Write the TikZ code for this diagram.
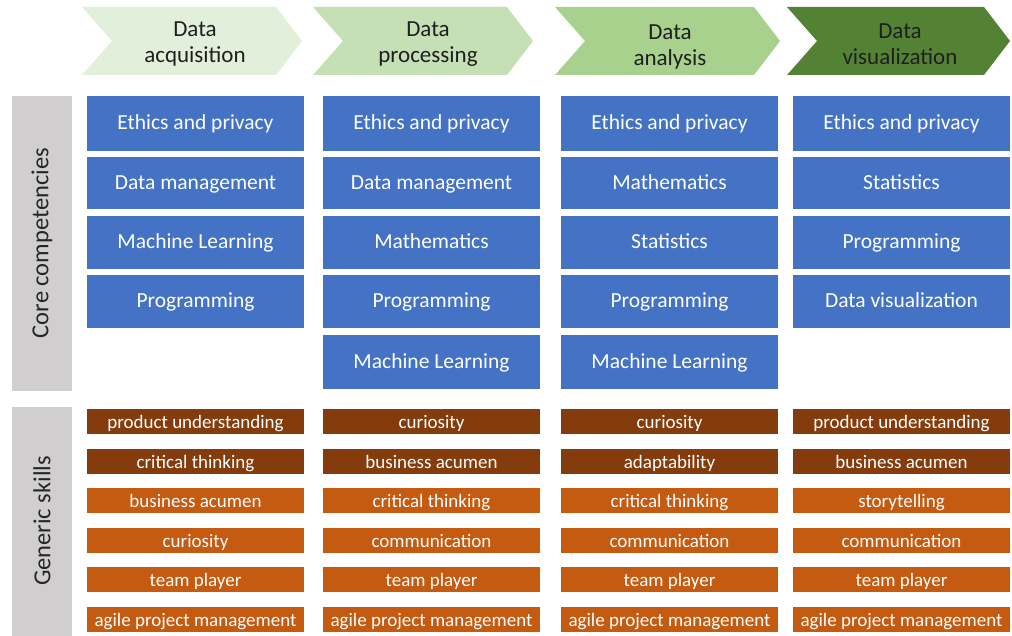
\documentclass[tikz,border=0pt]{standalone}
\usepackage{fontspec}
\setmainfont{Carlito}
\definecolor{corebl}{HTML}{4472C4}
\definecolor{skdark}{HTML}{843C0C}
\definecolor{sklight}{HTML}{C55A11}
\definecolor{sidegray}{HTML}{D0CECE}
\definecolor{chA}{HTML}{E2EFDA}
\definecolor{chB}{HTML}{C5E0B4}
\definecolor{chC}{HTML}{A9D18E}
\definecolor{chD}{HTML}{548235}
\tikzset{
  box/.style={anchor=north west, inner sep=0pt, outer sep=0pt, minimum width=217pt, text=white, align=center},
  corebox/.style={box, fill=corebl, font=\fontsize{21.5}{24}\selectfont, text height=15pt, text depth=2pt},
  skbox/.style={box, minimum height=25pt, font=\fontsize{19}{21}\selectfont, text height=14.5pt, text depth=0pt},
  skdk/.style={skbox, fill=skdark},
  sklt/.style={skbox, fill=sklight},
  side/.style={fill=sidegray, anchor=north west, inner sep=0pt, minimum width=60pt},
  sidetext/.style={rotate=90, font=\fontsize{24.5}{28}\selectfont, text=black!85},
  chtext/.style={align=center, font=\fontsize{23}{26}\selectfont, text=black!88}
}
\begin{document}
\begin{tikzpicture}[x=1pt,y=-1pt]
\useasboundingbox (0,0) rectangle (1012,636);
\fill[white] (0,0) rectangle (1012,636);
% chevrons
\fill[chA] (82,7) -- (276,7) -- (302,41) -- (276,75) -- (82,75) -- (112,41) -- cycle;
\fill[chB] (313,7) -- (507,7) -- (533,41) -- (507,75) -- (313,75) -- (343,41) -- cycle;
\fill[chC] (555,7) -- (754,7) -- (780,41) -- (754,75) -- (555,75) -- (585,41) -- cycle;
\fill[chD] (787,7) -- (984,7) -- (1010,41) -- (984,75) -- (787,75) -- (817,41) -- cycle;
\node[chtext] (h1) at (195,44) {Data\\acquisition};
\node[chtext] (h2) at (428,44) {Data\\processing};
\node[chtext] (h3) at (670,47) {Data\\analysis};
\node[chtext] (h4) at (900,44) {Data\\visualization};
% side bars
\node[side, minimum height=295pt] (sc) at (12,96) {};
\node[sidetext] (sct) at (42,243) {Core competencies};
\node[side, minimum height=229pt] (sg) at (12,407) {};
\node[sidetext] (sgt) at (42,521) {Generic skills};
% core column 1
\node[corebox, minimum height=55pt] (a1) at (87,96) {Ethics and privacy};
\node[corebox, minimum height=52pt] (a2) at (87,157) {Data management};
\node[corebox, minimum height=53pt] (a3) at (87,216) {Machine Learning};
\node[corebox, minimum height=53pt] (a4) at (87,275) {Programming};
% core column 2
\node[corebox, minimum height=55pt] (b1) at (323,96) {Ethics and privacy};
\node[corebox, minimum height=52pt] (b2) at (323,157) {Data management};
\node[corebox, minimum height=53pt] (b3) at (323,216) {Mathematics};
\node[corebox, minimum height=53pt] (b4) at (323,275) {Programming};
\node[corebox, minimum height=54pt] (b5) at (323,335) {Machine Learning};
% core column 3
\node[corebox, minimum height=55pt] (c1) at (561,96) {Ethics and privacy};
\node[corebox, minimum height=52pt] (c2) at (561,157) {Mathematics};
\node[corebox, minimum height=53pt] (c3) at (561,216) {Statistics};
\node[corebox, minimum height=53pt] (c4) at (561,275) {Programming};
\node[corebox, minimum height=54pt] (c5) at (561,335) {Machine Learning};
% core column 4
\node[corebox, minimum height=55pt] (d1) at (793,96) {Ethics and privacy};
\node[corebox, minimum height=52pt] (d2) at (793,157) {Statistics};
\node[corebox, minimum height=53pt] (d3) at (793,216) {Programming};
\node[corebox, minimum height=53pt] (d4) at (793,275) {Data visualization};
% skills column 1
\node[skdk] (sa1) at (87,409) {product understanding};
\node[skdk] (sa2) at (87,449) {critical thinking};
\node[sklt] (sa3) at (87,488) {business acumen};
\node[sklt] (sa4) at (87,528) {curiosity};
\node[sklt] (sa5) at (87,567) {team player};
\node[sklt] (sa6) at (87,607) {agile project management};
% skills column 2
\node[skdk] (sb1) at (323,409) {curiosity};
\node[skdk] (sb2) at (323,449) {business acumen};
\node[sklt] (sb3) at (323,488) {critical thinking};
\node[sklt] (sb4) at (323,528) {communication};
\node[sklt] (sb5) at (323,567) {team player};
\node[sklt] (sb6) at (323,607) {agile project management};
% skills column 3
\node[skdk] (sc1) at (561,409) {curiosity};
\node[skdk] (sc2) at (561,449) {adaptability};
\node[sklt] (sc3) at (561,488) {critical thinking};
\node[sklt] (sc4) at (561,528) {communication};
\node[sklt] (sc5) at (561,567) {team player};
\node[sklt] (sc6) at (561,607) {agile project management};
% skills column 4
\node[skdk] (sd1) at (793,409) {product understanding};
\node[skdk] (sd2) at (793,449) {business acumen};
\node[sklt] (sd3) at (793,488) {storytelling};
\node[sklt] (sd4) at (793,528) {communication};
\node[sklt] (sd5) at (793,567) {team player};
\node[sklt] (sd6) at (793,607) {agile project management};
\end{tikzpicture}
\end{document}
